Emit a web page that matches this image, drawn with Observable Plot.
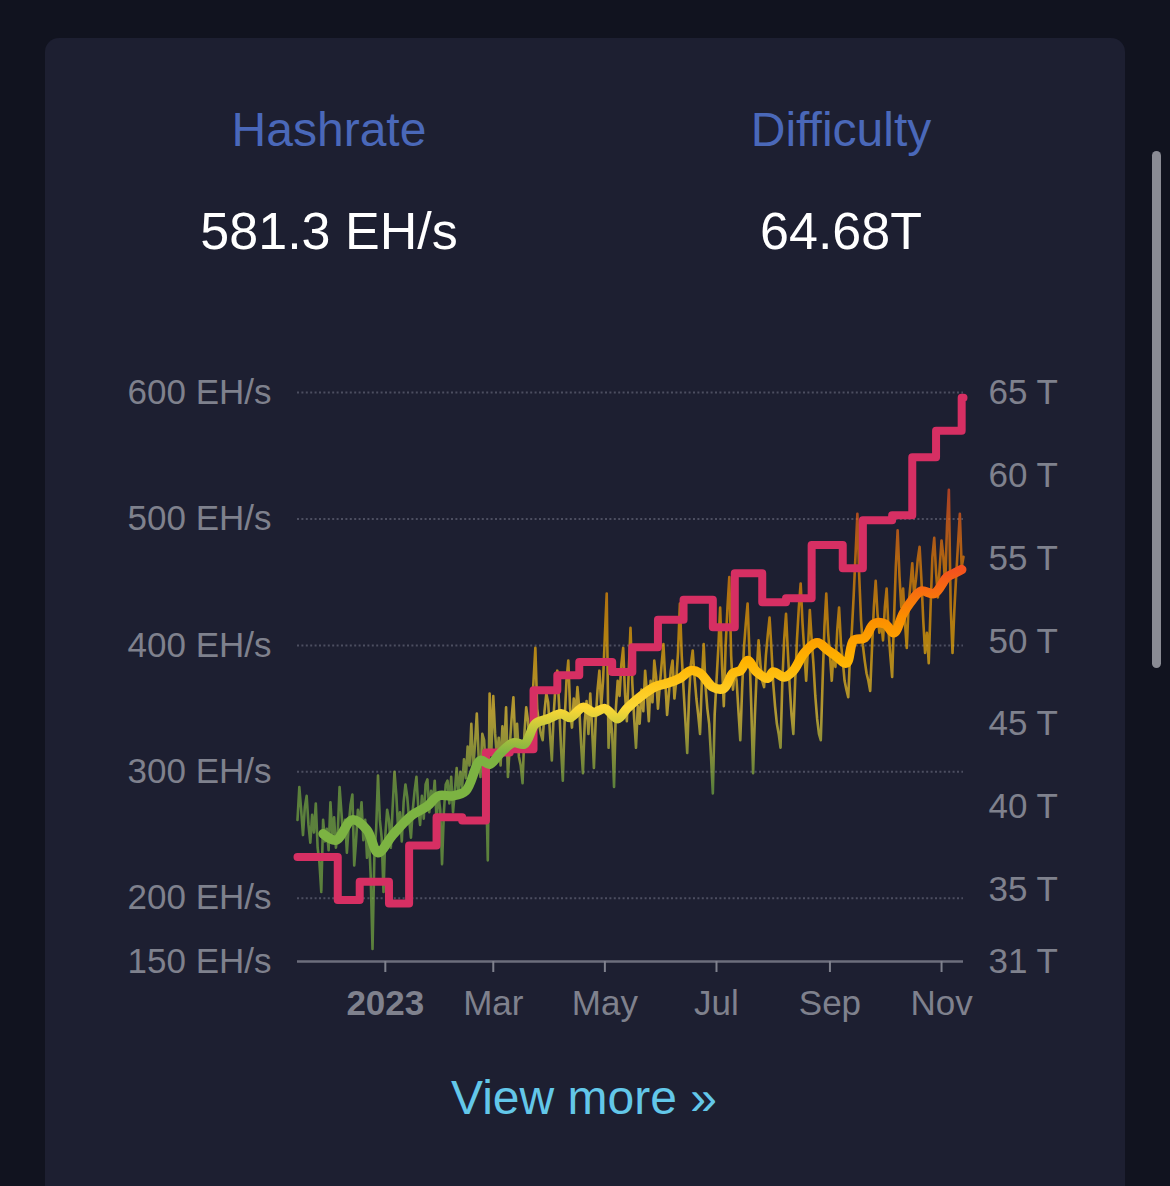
<!DOCTYPE html>
<html><head><meta charset="utf-8">
<script src="https://cdn.jsdelivr.net/npm/d3@7"></script>
<script src="https://cdn.jsdelivr.net/npm/@observablehq/plot@0.6"></script>
<style>
html,body{margin:0;padding:0;background:#11131f;width:1170px;height:1186px;overflow:hidden;font-family:"Liberation Sans",Arial,sans-serif;}
#card{position:absolute;left:45px;top:38px;width:1080px;height:1260px;background:#1d1f31;border-radius:14px;}
.lbl{position:absolute;transform:translateX(-50%);white-space:nowrap;line-height:1;}
#chart{position:absolute;left:0;top:350px;}
#scroll{position:absolute;left:1152px;top:151px;width:9px;height:517px;background:#8a8b94;border-radius:5px;}
</style></head><body>
<div id="card"></div>
<div class="lbl" style="left:329px;top:106px;font-size:48px;color:#4a68b9">Hashrate</div>
<div class="lbl" style="left:841px;top:106px;font-size:48px;color:#4a68b9">Difficulty</div>
<div class="lbl" style="left:329px;top:205px;font-size:52px;color:#ffffff">581.3 EH/s</div>
<div class="lbl" style="left:841px;top:205px;font-size:52px;color:#ffffff">64.68T</div>
<div id="chart"></div>
<div class="lbl" style="left:584px;top:1074px;font-size:48px;color:#63c7e9">View more »</div>
<div id="scroll"></div>
<script>
// ---- data ----
const hashrateStart = "2022-11-14";
const xEnd = "2023-11-13";
const hashrateDaily = [
262,288,270,250,272,281,258,244,266,252,
275,240,228,205,262,245,255,238,276,250,
264,240,252,288,268,248,262,236,258,274,
282,226,245,270,258,276,246,262,232,250,
218,160,232,255,297,262,248,205,250,270,
262,240,272,300,282,254,268,245,276,290,
280,262,248,270,285,296,272,258,281,263,
290,294,268,285,276,293,262,282,270,227,
268,290,293,275,296,268,285,303,282,300,
288,310,295,320,305,338,302,322,346,312,
296,330,325,298,230,362,318,360,330,312,
327,305,336,318,351,296,320,342,359,325,
338,312,305,291,330,351,340,318,345,372,
398,350,338,330,325,348,362,355,330,309,
345,368,380,352,320,293,340,372,388,350,
335,358,345,367,350,322,299,340,356,330,
362,335,303,342,365,380,352,372,408,441,
319,345,330,288,350,372,360,385,398,362,
340,378,414,370,342,319,352,338,365,348,
380,362,340,372,355,388,375,350,368,385,
401,372,345,362,380,388,358,372,395,433,
392,365,340,315,360,385,396,375,358,345,
330,372,401,368,350,338,312,283,345,372,
398,430,385,352,400,430,454,392,365,380,
372,348,325,365,398,417,433,395,352,299,
345,380,404,385,372,367,392,408,422,398,
370,352,338,330,319,372,405,425,395,368,
345,330,372,405,430,449,418,395,372,398,
428,405,385,360,342,330,325,372,415,441,
410,392,372,395,383,412,430,402,388,372,
365,359,392,412,440,472,504,455,420,400,
388,378,372,364,398,430,451,425,410,420,
404,430,445,412,392,375,420,462,491,455,
430,445,418,398,432,448,465,440,452,468,
478,452,420,394,410,386,430,470,485,458,
438,462,483,470,448,495,523,430,394,428,
455,480,504,462,470
];
const maDates = ["2022-11-28","2022-12-05","2022-12-14","2022-12-22","2022-12-28","2023-01-05","2023-01-15","2023-01-24","2023-01-30","2023-02-07","2023-02-14","2023-02-22","2023-02-27","2023-03-05","2023-03-12","2023-03-18","2023-03-24","2023-03-31","2023-04-07","2023-04-12","2023-04-19","2023-04-25","2023-05-01","2023-05-08","2023-05-13","2023-05-20","2023-05-28","2023-06-04","2023-06-11","2023-06-17","2023-06-22","2023-06-29","2023-07-05","2023-07-10","2023-07-14","2023-07-18","2023-07-23","2023-07-29","2023-08-01","2023-08-07","2023-08-12","2023-08-18","2023-08-25","2023-08-31","2023-09-04","2023-09-10","2023-09-14","2023-09-20","2023-09-25","2023-10-01","2023-10-06","2023-10-11","2023-10-15","2023-10-21","2023-10-28","2023-11-04","2023-11-08","2023-11-12"];
const maValues = [251,246,262,254,236,250,265,273,281,281,285,309,306,315,323,322,338,342,346,343,351,347,350,342,350,359,367,370,374,380,378,367,366,378,380,388,379,374,379,375,380,394,402,396,392,386,404,406,417,417,410,425,434,443,441,454,457,460];
const diffDates = ["2022-11-14","2022-12-06","2022-12-18","2023-01-03","2023-01-14","2023-01-29","2023-02-12","2023-02-25","2023-03-10","2023-03-23","2023-04-05","2023-04-17","2023-05-05","2023-05-16","2023-05-30","2023-06-13","2023-06-29","2023-07-11","2023-07-26","2023-08-08","2023-08-22","2023-09-08","2023-09-19","2023-10-05","2023-10-16","2023-10-29","2023-11-12","2023-11-13"];
const diffValues = [37.0,34.4,35.5,34.2,37.7,39.4,39.2,43.3,43.5,47.05,47.95,48.75,48.15,49.65,51.3,52.5,50.85,54.1,52.35,52.6,55.8,54.4,57.3,57.6,61.1,62.7,64.68,64.68];
const leftTicks = [150,200,300,400,500,600];
const gridTicks = [200,300,400,500,600];
const rightTicks = [30.7,35,40,45,50,55,60,65];
const yearTick = ["2023-01-01"];
const monthTicks = ["2023-03-01","2023-05-01","2023-07-01","2023-09-01","2023-11-01"];
const gradStops = [[0,"#F4511E"],[0.25,"#FB8C00"],[0.5,"#FFB300"],[0.75,"#FDD835"],[1,"#7CB342"]];

// ---- build ----
const parse = d3.utcParse("%Y-%m-%d");
const start = parse(hashrateStart);
const hashData = hashrateDaily.map((v,i)=>({date:d3.utcDay.offset(start,i), v}));
const maData = maDates.map((d,i)=>({date:parse(d), v:maValues[i]}));
const yMin = leftTicks[0], yMax = leftTicks[leftTicks.length-1];
const dMin = rightTicks[0], dMax = rightTicks[rightTicks.length-1];
const toEH = t => yMin + (t - dMin) * (yMax - yMin) / (dMax - dMin);
const fromEH = e => dMin + (e - yMin) * (dMax - dMin) / (yMax - yMin);
const diffData = diffDates.map((d,i)=>({date:parse(d), v:toEH(diffValues[i])}));
const axisColor = "#7f818d";
const font = "Liberation Sans, Arial, sans-serif";

const chart = Plot.plot({
  width:1170, height:700,
  marginLeft:297, marginRight:207, marginTop:42, marginBottom:89,
  style:{background:"transparent", fontFamily:font, overflow:"visible"},
  x:{type:"utc", domain:[start, parse(xEnd)]},
  y:{domain:[yMin,yMax]},
  marks:[
    Plot.gridY({ticks:gridTicks, stroke:"#4c4e60", strokeOpacity:1, strokeWidth:2, strokeDasharray:"2 2.4"}),
    Plot.ruleY([yMin], {stroke:"#6c6e7c", strokeWidth:2.5}),
    Plot.axisY({ticks:leftTicks, tickSize:0, tickPadding:26, fontSize:35, color:axisColor, tickFormat:d=>`${d} EH/s`, label:null}),
    Plot.axisY({anchor:"right", ticks:rightTicks.map(toEH), tickSize:0, tickPadding:25, fontSize:35, color:axisColor, tickFormat:d=>`${Math.round(fromEH(d))} T`, label:null}),
    Plot.axisX({ticks:yearTick.map(parse), tickSize:11, tickPadding:18, fontSize:35, fontWeight:"bold", color:axisColor, strokeWidth:2, tickFormat:d=>d3.utcFormat("%Y")(d), label:null}),
    Plot.axisX({ticks:monthTicks.map(parse), tickSize:11, tickPadding:18, fontSize:35, color:axisColor, strokeWidth:2, tickFormat:d3.utcFormat("%b"), label:null}),
    Plot.line(hashData, {x:"date", y:"v", stroke:"url(#thinGrad)", strokeWidth:2.6, strokeLinejoin:"round"}),
    Plot.line(diffData, {x:"date", y:"v", curve:"step-after", stroke:"#d62f63", strokeWidth:8, strokeLinejoin:"round", strokeLinecap:"round"}),
    Plot.line(maData, {x:"date", y:"v", curve:"catmull-rom", stroke:"url(#maGrad)", strokeWidth:9.5, strokeLinejoin:"round", strokeLinecap:"round"})
  ]
});

const ns = "http://www.w3.org/2000/svg";
const defs = document.createElementNS(ns, "defs");
function makeGrad(id, op){
  const g = document.createElementNS(ns, "linearGradient");
  g.setAttribute("id", id);
  g.setAttribute("x1","0"); g.setAttribute("y1","0");
  g.setAttribute("x2","0"); g.setAttribute("y2","0.65");
  for (const [o,c] of gradStops){
    const s = document.createElementNS(ns, "stop");
    s.setAttribute("offset", o);
    s.setAttribute("stop-color", c);
    s.setAttribute("stop-opacity", op);
    g.appendChild(s);
  }
  defs.appendChild(g);
}
makeGrad("thinGrad", 0.66);
makeGrad("maGrad", 1);
chart.insertBefore(defs, chart.firstChild);
document.getElementById("chart").appendChild(chart);
</script>
</body></html>
